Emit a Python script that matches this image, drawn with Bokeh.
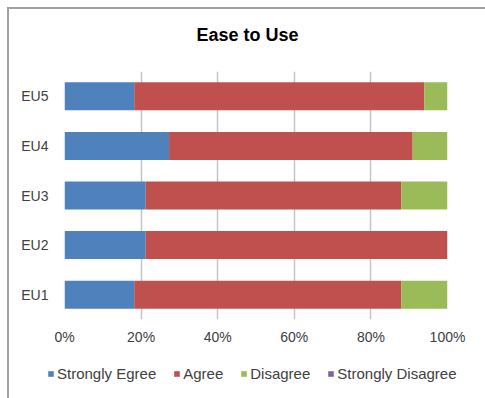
from bokeh.plotting import figure
from bokeh.layouts import column
from bokeh.models import FactorRange, Range1d, FixedTicker, Legend, LegendItem, Label
from bokeh.embed import file_html
from bokeh.resources import INLINE

# Survey items (bottom to top) and share of answers per category, in percent
items = ["EU1", "EU2", "EU3", "EU4", "EU5"]
strongly_agree = [18.2, 21.2, 21.2, 27.3, 18.2]
agree = [69.7, 78.8, 66.7, 63.6, 75.7]
disagree = [12.1, 0.0, 12.1, 9.1, 6.1]
strongly_disagree = [0.0, 0.0, 0.0, 0.0, 0.0]

series_names = ["Strongly Egree", "Agree", "Disagree", "Strongly Disagree"]
series_colors = ["#4F81BD", "#C0504D", "#9BBB59", "#8064A2"]
tick_values = [0, 20, 40, 60, 80, 100]
tick_labels = ["0%", "20%", "40%", "60%", "80%", "100%"]
chart_title = "Ease to Use"

FONT = "Liberation Sans"
TEXT_GREY = "#404040"

source = dict(
    items=items,
    s1=strongly_agree, s2=agree, s3=disagree, s4=strongly_disagree,
)
stack_cols = ["s1", "s2", "s3", "s4"]


def strip(height):
    """A bare full-width canvas used for the heading and the legend."""
    f = figure(
        width=476, height=height,
        x_axis_type=None, y_axis_type=None,
        x_range=Range1d(0, 1), y_range=Range1d(0, 1),
        output_backend="svg", toolbar_location=None,
        min_border=0,
    )
    f.frame_align = False
    f.outline_line_color = None
    f.grid.visible = False
    return f


# ---- heading ----------------------------------------------------------------
head = strip(62)
head.add_layout(Label(
    x=238, y=37, x_units="screen", y_units="screen",
    text=chart_title, text_align="center", text_baseline="middle",
    text_font=FONT, text_font_size="18px", text_font_style="bold",
    text_color="#000000",
))

# ---- main chart -------------------------------------------------------------
p = figure(
    width=476, height=277,
    y_range=FactorRange(factors=items, range_padding=0),
    x_range=Range1d(0, 100),
    output_backend="svg", toolbar_location=None,
    min_border_left=55, min_border_right=38,
    min_border_top=0, min_border_bottom=29,
)
p.outline_line_color = None
p.title.visible = False

p.hbar_stack(
    stack_cols, y="items", height=0.565,
    color=series_colors, line_color=None, source=source,
)

p.xaxis.ticker = FixedTicker(ticks=tick_values)
p.xaxis.major_label_overrides = {v: t for v, t in zip(tick_values, tick_labels)}
for ax in (p.xaxis[0], p.yaxis[0]):
    ax.axis_line_color = None
    ax.major_tick_line_color = None
    ax.minor_tick_line_color = None
    ax.major_label_text_font = FONT
    ax.major_label_text_font_size = "14px"
    ax.major_label_text_color = TEXT_GREY
p.xaxis.major_label_standoff = 3
p.yaxis.major_label_standoff = 10

p.xgrid.ticker = FixedTicker(ticks=tick_values)
p.xgrid.grid_line_color = "#c4c4c4"
p.xgrid.grid_line_width = 1.5
p.ygrid.grid_line_color = None

# ---- legend strip -----------------------------------------------------------
lg = strip(50)

# hidden copies of the series, only used to paint the legend swatches
swatches = []
for col, c in zip(stack_cols, series_colors):
    r = lg.quad(left=0, right=col, bottom=0, top=1, source=source,
                fill_color=c, line_color=None)
    r.visible = False
    swatches.append(r)

legend = Legend(
    items=[LegendItem(label=n, renderers=[r]) for n, r in zip(series_names, swatches)],
    orientation="horizontal",
    location=(38, 16),
    glyph_width=7, glyph_height=7,
    label_standoff=3, spacing=17, padding=0, margin=0,
    border_line_color=None, background_fill_alpha=0,
    label_text_font=FONT, label_text_font_size="15px",
    label_text_color=TEXT_GREY,
)
lg.add_layout(legend, "center")

layout = column(head, p, lg, spacing=0)
layout.styles = {
    "margin-left": "7px", "margin-top": "7px",
    "border-left": "2px solid #a0a0a0", "border-top": "2px solid #a0a0a0",
}

open("out.html", "w").write(file_html(layout, INLINE))
